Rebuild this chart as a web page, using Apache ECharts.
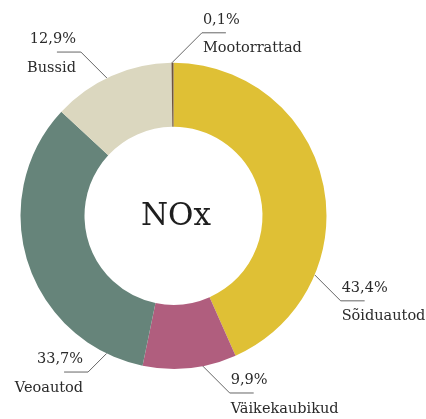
<!DOCTYPE html>
<html><head><meta charset="utf-8">
<script src="https://cdn.jsdelivr.net/npm/echarts@6/dist/echarts.min.js"></script>
<style>html,body{margin:0;padding:0;background:#fff}#c{width:426px;height:419px}</style>
</head><body><div id="c"></div>
<script>
// ---- data ----
const categories = ['Sõiduautod', 'Väikekaubikud', 'Veoautod', 'Bussid', 'Mootorrattad'];
const shares = [43.4, 9.9, 33.7, 12.9, 0.1];
const centerTitle = 'NOx';

// ---- style / layout ----
const colors = ['#dfc035', '#b05e7e', '#66847a', '#dbd7bf', '#6e5440'];
const labelAnchorDeg = [112.7, 169, 205.9, 334.2, 359.4];
const labelDiag = [26, 27, 18.6, 26, 30];
const labelDirX = [1, 1, -1, -1, 1];
const labelDirY = [1, 1, 1, -1, -1];
const CX = 173.5, CY = 215.8, R_OUT = 153, R_IN = 89, H_SEG = 24;
const FONT = '"DejaVu Serif", serif';

const chart = echarts.init(document.getElementById('c'), null, {renderer: 'canvas'});
chart.setOption({
  animation: false,
  series: [{
    type: 'pie',
    center: [CX, CY],
    radius: [R_IN, R_OUT],
    startAngle: 90,
    clockwise: true,
    minAngle: 0.75,
    avoidLabelOverlap: false,
    emphasis: {disabled: true},
    data: categories.map((n, i) => ({name: n, value: shares[i], itemStyle: {color: colors[i]}})),
    label: {
      show: true,
      position: 'outside',
      formatter: p => '{p|' + p.value.toFixed(1).replace('.', ',') + '%}\n{n|' + p.name + '}',
      rich: {
        p: {fontFamily: FONT, fontSize: 14.5, lineHeight: 28.5, color: '#2a2a2a'},
        n: {fontFamily: FONT, fontSize: 14.5, lineHeight: 28.5, color: '#2a2a2a'}
      }
    },
    labelLine: {show: true, smooth: false, lineStyle: {color: '#666', width: 1}},
    labelLayout: function (params) {
      const i = params.dataIndex;
      const a = labelAnchorDeg[i] * Math.PI / 180;
      const ax = CX + R_OUT * Math.sin(a), ay = CY - R_OUT * Math.cos(a);
      const ex = ax + labelDirX[i] * labelDiag[i], ey = ay + labelDirY[i] * labelDiag[i];
      const hx = ex + labelDirX[i] * H_SEG;
      return {
        x: labelDirX[i] > 0 ? ex + 1 : ex - 5,
        y: ey + 1.5,
        align: labelDirX[i] > 0 ? 'left' : 'right',
        verticalAlign: 'middle',
        labelLinePoints: [[ax, ay], [ex, ey], [hx, ey]]
      };
    }
  }],
  graphic: [{
    type: 'text',
    x: 176, y: 216.5,
    style: {text: centerTitle, fontFamily: FONT, fontSize: 31, fill: '#1e1e1e', align: 'center', verticalAlign: 'middle'}
  }]
});
</script></body></html>
